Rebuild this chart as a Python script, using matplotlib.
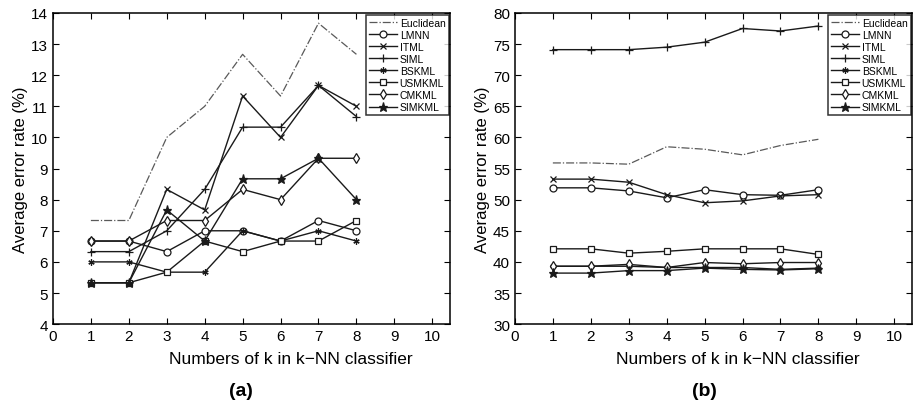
import matplotlib
matplotlib.use("Agg")
import matplotlib.pyplot as plt

plt.rcParams["font.family"] = ["Liberation Sans", "DejaVu Sans"]

k = [1, 2, 3, 4, 5, 6, 7, 8]
names = ["Euclidean", "LMNN", "ITML", "SIML", "BSKML", "USMKML", "CMKML", "SIMKML"]

# panel (a)
a_euclidean = [7.33, 7.33, 10.0, 11.0, 12.67, 11.33, 13.67, 12.67]
a_lmnn = [6.67, 6.67, 6.33, 7.0, 7.0, 6.67, 7.33, 7.0]
a_itml = [5.33, 5.33, 8.33, 7.67, 11.33, 10.0, 11.67, 11.0]
a_siml = [6.33, 6.33, 7.0, 8.33, 10.33, 10.33, 11.67, 10.67]
a_bskml = [6.0, 6.0, 5.67, 5.67, 7.0, 6.67, 7.0, 6.67]
a_usmkml = [5.33, 5.33, 5.67, 6.67, 6.33, 6.67, 6.67, 7.33]
a_cmkml = [6.67, 6.67, 7.33, 7.33, 8.33, 8.0, 9.33, 9.33]
a_simkml = [5.33, 5.33, 7.67, 6.67, 8.67, 8.67, 9.33, 8.0]

# panel (b)
b_euclidean = [55.9, 55.9, 55.7, 58.5, 58.1, 57.2, 58.7, 59.7]
b_lmnn = [51.9, 51.9, 51.4, 50.3, 51.6, 50.8, 50.7, 51.6]
b_itml = [53.3, 53.3, 52.8, 50.8, 49.5, 49.8, 50.6, 50.8]
b_siml = [74.1, 74.1, 74.1, 74.5, 75.3, 77.5, 77.1, 77.9]
b_bskml = [39.3, 39.3, 39.3, 39.1, 39.1, 39.1, 38.8, 39.0]
b_usmkml = [42.1, 42.1, 41.4, 41.7, 42.1, 42.1, 42.1, 41.2]
b_cmkml = [39.3, 39.3, 39.6, 39.1, 39.9, 39.7, 39.9, 39.9]
b_simkml = [38.2, 38.2, 38.6, 38.6, 39.0, 38.8, 38.7, 38.9]

styles = {
    "Euclidean": dict(color="0.35", linestyle="-.", linewidth=0.9, marker=None),
    "LMNN": dict(marker="o", mfc="white", ms=5),
    "ITML": dict(marker="x", ms=4.5),
    "SIML": dict(marker="+", ms=5.5),
    "BSKML": dict(marker=(6, 2, 0), ms=4.5),
    "USMKML": dict(marker="s", mfc="white", ms=4.5),
    "CMKML": dict(marker="d", mfc="white", ms=5),
    "SIMKML": dict(marker="*", ms=6.5),
}


def draw(ax, series, ylim, yticks, tag, xlab_pos, tag_pos):
    for name, vals in zip(names, series):
        st = dict(color="0.1", linewidth=1.0, mec="0.1", mew=0.9)
        st.update(styles[name])
        ax.plot(k, vals, label=name, **st)
    ax.set_xlim(0, 10.47)
    ax.set_ylim(*ylim)
    ax.set_xticks(range(0, 11))
    ax.set_yticks(yticks)
    ax.tick_params(direction="in", top=True, right=True, labelsize=11, length=4)
    for s in ax.spines.values():
        s.set_linewidth(1.1)
    ax.set_ylabel("Average error rate (%)", fontsize=12, labelpad=2)
    ax.set_xlabel("Numbers of k in k\u2212NN classifier", fontsize=12.5, labelpad=7)
    ax.xaxis.set_label_coords(xlab_pos, -0.085)
    ax.text(tag_pos, -0.212, tag, transform=ax.transAxes, ha="center", va="center",
            fontsize=14, fontweight="bold")
    leg = ax.legend(loc="upper right", fontsize=7.5, frameon=True, fancybox=False,
                    borderaxespad=0.15, handlelength=2.6, labelspacing=0.2,
                    borderpad=0.3, handletextpad=0.3)
    leg.get_frame().set_edgecolor("black")
    leg.get_frame().set_linewidth(1.1)


fig = plt.figure(figsize=(9.13, 4.10), dpi=100)
ax1 = fig.add_axes([0.058, 0.207, 0.435, 0.759])
ax2 = fig.add_axes([0.564, 0.207, 0.435, 0.759])

draw(ax1, [a_euclidean, a_lmnn, a_itml, a_siml, a_bskml, a_usmkml, a_cmkml, a_simkml],
     (4, 14), range(4, 15), "(a)", 0.60, 0.474)
draw(ax2, [b_euclidean, b_lmnn, b_itml, b_siml, b_bskml, b_usmkml, b_cmkml, b_simkml],
     (30, 80), range(30, 81, 5), "(b)", 0.56, 0.476)

fig.savefig("out.png", dpi=100)
